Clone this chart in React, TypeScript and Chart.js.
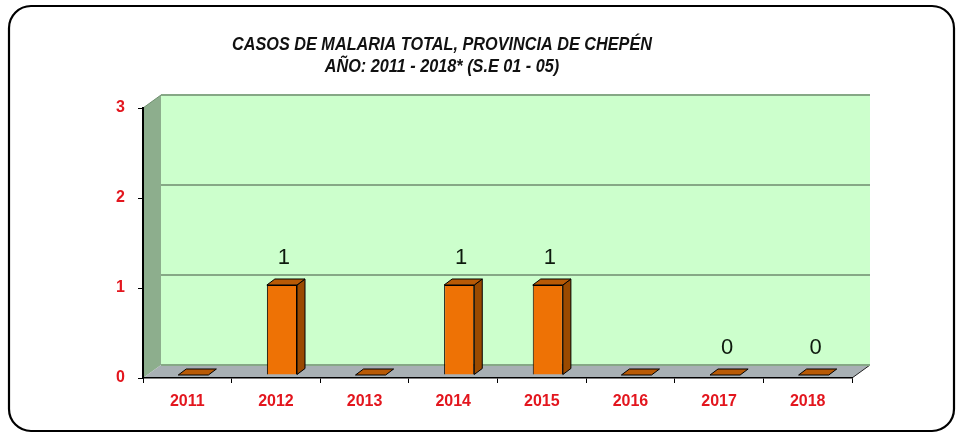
import React, { useEffect, useRef } from 'react';
import { Chart, registerables } from 'chart.js';

Chart.register(...registerables);

const categories = ['2011', '2012', '2013', '2014', '2015', '2016', '2017', '2018'];
const cases = [0, 1, 0, 1, 1, 0, 0, 0];
const valueLabels = ['', '1', '', '1', '1', '', '0', '0'];
const titleLines = ['CASOS DE MALARIA TOTAL, PROVINCIA DE CHEPÉN', 'AÑO: 2011 - 2018* (S.E 01 - 05)'];
const yMin = 0;
const yMax = 3;
const yStep = 1;

const WALL_DX = 18;
const WALL_DY = 13;
const BAR_DX = 8;
const BAR_DY = 6;
const BAR_SHIFT_X = 6;
const BAR_SHIFT_Y = -3;

function poly(ctx: CanvasRenderingContext2D, pts: number[][]) {
  ctx.beginPath();
  ctx.moveTo(pts[0][0], pts[0][1]);
  for (let i = 1; i < pts.length; i++) ctx.lineTo(pts[i][0], pts[i][1]);
  ctx.closePath();
}

const decor = {
  id: 'decor3d',
  beforeDraw(chart: any) {
    const { ctx, chartArea: a, scales } = chart;
    const y = scales.y;
    const L = a.left, R = a.right, T = a.top, B = a.bottom;
    ctx.save();
    ctx.fillStyle = '#ffffff';
    ctx.fillRect(0, 0, chart.width, chart.height);

    // outer rounded frame
    ctx.beginPath();
    ctx.roundRect(9, 6, 945, 425, 22);
    ctx.lineWidth = 2.2;
    ctx.strokeStyle = '#000';
    ctx.stroke();

    // back wall
    ctx.fillStyle = '#CCFFCC';
    ctx.fillRect(L + WALL_DX, T - WALL_DY, R - L, B - T);
    // left wall
    ctx.fillStyle = '#8DAE8D';
    poly(ctx, [[L, T], [L + WALL_DX, T - WALL_DY], [L + WALL_DX, B - WALL_DY], [L, B]]);
    ctx.fill();
    // floor
    ctx.fillStyle = '#A8B0B4';
    poly(ctx, [[L, B], [L + WALL_DX, B - WALL_DY], [R + WALL_DX, B - WALL_DY], [R, B]]);
    ctx.fill();
    ctx.strokeStyle = '#222';
    ctx.lineWidth = 1;
    ctx.beginPath();
    ctx.moveTo(R, B);
    ctx.lineTo(R + WALL_DX, B - WALL_DY);
    ctx.stroke();

    // gridlines on back wall
    ctx.strokeStyle = '#86A886';
    ctx.lineWidth = 2;
    y.ticks.forEach((t: any) => {
      const py = Math.round(y.getPixelForValue(t.value) - WALL_DY);
      ctx.beginPath();
      ctx.moveTo(L + WALL_DX, py);
      ctx.lineTo(R + WALL_DX, py);
      ctx.stroke();
    });
    ctx.strokeStyle = '#6F906F';
    ctx.lineWidth = 1;
    ctx.beginPath();
    ctx.moveTo(L, T);
    ctx.lineTo(L + WALL_DX, T - WALL_DY);
    ctx.stroke();

    // title
    ctx.fillStyle = '#111';
    ctx.font = 'italic bold 18px "Liberation Sans", Arial, sans-serif';
    ctx.textAlign = 'center';
    ctx.textBaseline = 'middle';
    const w0 = ctx.measureText(titleLines[0]).width;
    const sx = 420 / w0;
    const cx = 442;
    [45, 67].forEach((ty, i) => {
      ctx.save();
      ctx.translate(cx, ty);
      ctx.scale(sx, 1);
      ctx.fillText(titleLines[i], 0, 0);
      ctx.restore();
    });
    ctx.restore();
  },
  beforeDatasetsDraw(chart: any) {
    chart.ctx.save();
    chart.ctx.translate(BAR_SHIFT_X, BAR_SHIFT_Y);
  },
  afterDatasetsDraw(chart: any) {
    const { ctx } = chart;
    ctx.restore();
    const meta = chart.getDatasetMeta(0);
    ctx.save();
    ctx.translate(BAR_SHIFT_X, BAR_SHIFT_Y);
    ctx.lineWidth = 1;
    ctx.strokeStyle = '#000';
    meta.data.forEach((bar: any, i: number) => {
      const { x, y, base, width } = bar.getProps(['x', 'y', 'base', 'width'], true);
      const l = x - width / 2;
      const r = x + width / 2;
      if (base - y > 0.5) {
        ctx.fillStyle = '#9A4A00';
        poly(ctx, [[r, y], [r + BAR_DX, y - BAR_DY], [r + BAR_DX, base - BAR_DY], [r, base]]);
        ctx.fill();
        ctx.stroke();
      }
      ctx.fillStyle = '#B85A06';
      poly(ctx, [[l, y], [l + BAR_DX, y - BAR_DY], [r + BAR_DX, y - BAR_DY], [r, y]]);
      ctx.fill();
      ctx.stroke();

      const lab = valueLabels[i];
      if (lab) {
        ctx.fillStyle = '#0E1A0E';
        ctx.font = '22px "Liberation Sans", Arial, sans-serif';
        ctx.textAlign = 'center';
        ctx.textBaseline = 'middle';
        ctx.fillText(lab, x + 2, y - 27);
      }
    });
    ctx.restore();
  },
};

export default function App() {
  const ref = useRef<HTMLCanvasElement>(null);
  useEffect(() => {
    if (!ref.current) return;
    const chart = new Chart(ref.current, {
      type: 'bar',
      data: {
        labels: categories,
        datasets: [
          {
            data: cases,
            backgroundColor: '#EE7205',
            borderColor: '#000',
            borderWidth: 1,
            barPercentage: 0.34,
            categoryPercentage: 1,
          },
        ],
      },
      options: {
        responsive: false,
        animation: false,
        layout: { padding: { left: 0, right: 107, top: 108, bottom: 0 } },
        plugins: { legend: { display: false }, tooltip: { enabled: false }, title: { display: false } },
        scales: {
          x: {
            afterFit: (s: any) => { s.height = 60; },
            grid: { display: true, drawOnChartArea: false, drawTicks: true, tickLength: 5, color: '#000', offset: true },
            border: { display: true, color: '#000', width: 1.5 },
            ticks: {
              color: '#E3161E',
              padding: 9,
              font: { family: '"Liberation Sans", Arial, sans-serif', size: 16, weight: 'bold' },
            },
          },
          y: {
            min: yMin,
            max: yMax,
            afterFit: (s: any) => { s.width = 143; },
            grid: { display: true, drawOnChartArea: false, drawTicks: true, tickLength: 5, color: '#000' },
            border: { display: true, color: '#000', width: 2 },
            ticks: {
              stepSize: yStep,
              color: '#E3161E',
              padding: 13,
              font: { family: '"Liberation Sans", Arial, sans-serif', size: 16, weight: 'bold' },
            },
          },
        },
      },
      plugins: [decor],
    });
    return () => chart.destroy();
  }, []);
  return (
    <div style={{ position: 'absolute', left: 0, top: 0, width: 959, height: 438 }}>
      <canvas ref={ref} width={959} height={438} style={{ display: 'block' }} />
    </div>
  );
}
